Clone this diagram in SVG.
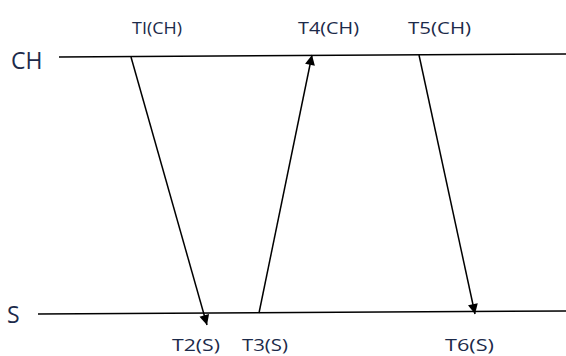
<svg xmlns="http://www.w3.org/2000/svg" width="566" height="356" viewBox="0 0 566 356">
<defs>
<marker id="ah" viewBox="0 0 10 10" refX="10" refY="5" markerWidth="12" markerHeight="10" markerUnits="userSpaceOnUse" orient="auto">
<path d="M0,0 L10,5 L0,10 z" fill="#000"/>
</marker>
<style>
.ln{stroke:#000;stroke-width:1.5;fill:none}
.lb{font-family:"Open Sans","Liberation Sans",sans-serif;font-size:17px;fill:#1c2a4a}
.ax{font-family:"Open Sans","Liberation Sans",sans-serif;font-size:23px;fill:#1c2a4a}
</style>
</defs>
<rect width="566" height="356" fill="#fff"/>
<g id="CH">
<line class="ln" x1="59" y1="57" x2="566" y2="54"/>
<text class="ax" x="11" y="69">CH</text>
</g>
<g id="S">
<line class="ln" x1="38" y1="314" x2="566" y2="311"/>
<text class="ax" x="7" y="323">S</text>
</g>
<g id="labels">
<text class="lb" x="132" y="34" textLength="50" lengthAdjust="spacingAndGlyphs">TI(CH)</text>
<text class="lb" x="298" y="34" textLength="61" lengthAdjust="spacingAndGlyphs">T4(CH)</text>
<text class="lb" x="408" y="34" textLength="63" lengthAdjust="spacingAndGlyphs">T5(CH)</text>
<text class="lb" x="172" y="351" textLength="48" lengthAdjust="spacingAndGlyphs">T2(S)</text>
<text class="lb" x="242" y="351" textLength="46" lengthAdjust="spacingAndGlyphs">T3(S)</text>
<text class="lb" x="445" y="351" textLength="49" lengthAdjust="spacingAndGlyphs">T6(S)</text>
</g>
<g id="connectors">
<line class="ln" x1="131" y1="57" x2="207" y2="325" marker-end="url(#ah)"/>
<line class="ln" x1="259" y1="313" x2="312" y2="55" marker-end="url(#ah)"/>
<line class="ln" x1="419" y1="55" x2="475" y2="314" marker-end="url(#ah)"/>
</g>
</svg>
